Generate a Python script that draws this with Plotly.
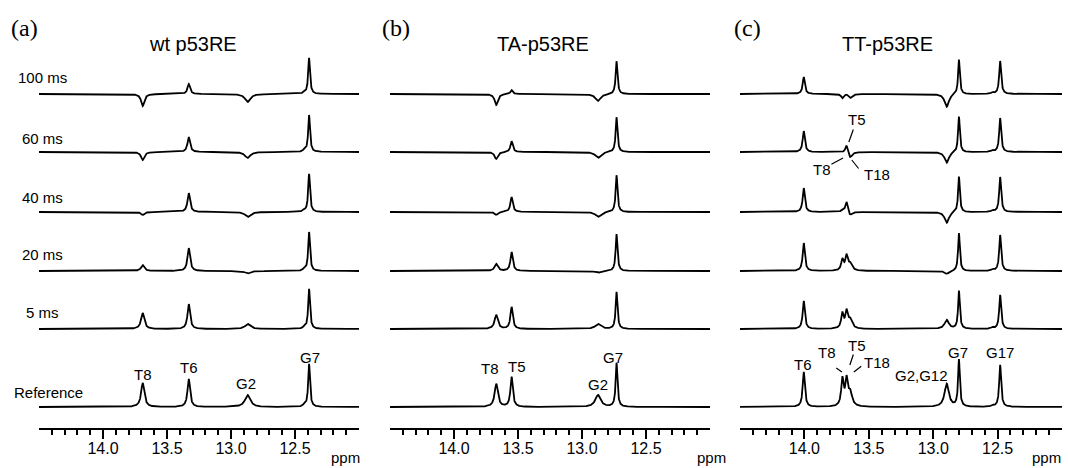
import numpy as np
import plotly.graph_objects as go

# ---------------- data ----------------
rows = ["100 ms", "60 ms", "40 ms", "20 ms", "5 ms", "Reference"]
panels = ["(a)", "(b)", "(c)"]
titles = ["wt p53RE", "TA-p53RE", "TT-p53RE"]

tick_vals = [14.0, 13.5, 13.0, 12.5]
tick_text = ["14.0", "13.5", "13.0", "12.5"]
minor_vals = [14.4, 14.3, 14.2, 14.1, 13.9, 13.8, 13.7, 13.6, 13.4, 13.3,
              13.2, 13.1, 12.9, 12.8, 12.7, 12.6, 12.4, 12.3, 12.2, 12.1]

# panel (a) wt p53RE : peak positions (ppm), line widths (ppm), intensities per row
a_ppm = [13.69, 13.33, 12.87, 12.43, 12.39]
a_width = [0.030, 0.024, 0.050, 0.020, 0.017]
a_int = {
    "T8":  [-12, -8, -3, 6, 16, 24],
    "T6":  [10, 15, 19, 23, 25, 28],
    "G2":  [-8, -6, -5, -2.5, 5, 12],
    "sh":  [1.5, 1.5, 1.5, 1.5, 1.5, 1.5],
    "G7":  [36, 37, 38, 39, 40, 43],
}

# panel (b) TA-p53RE
b_ppm = [13.67, 13.55, 12.875, 12.73]
b_width = [0.030, 0.022, 0.050, 0.017]
b_int = {
    "T8": [-11, -7, -3, 7, 14, 23],
    "T5": [4, 11, 15, 19, 22, 30],
    "G2": [-7, -6, -5, -2, 5, 12],
    "G7": [33, 35, 37, 37, 37, 44],
}

# panel (c) TT-p53RE
c_ppm = [14.005, 13.705, 13.673, 13.645, 12.895, 12.80, 12.54, 12.48]
c_width = [0.020, 0.022, 0.022, 0.036, 0.040, 0.016, 0.020, 0.018]
c_int = {
    "T6":  [17, 21, 24, 28, 28, 35],
    "T8":  [-4, 0, 2, 11, 15, 27],
    "T5":  [1, 8, 11, 14, 16, 25],
    "T18": [-4, -6, -4, 7, 9, 14],
    "G2":  [-13, -11, -11, -3, 9, 23],
    "G7":  [35, 36, 36, 38, 38, 47],
    "sh":  [1.5, 1.5, 1.5, 1.5, 1.5, 1.5],
    "G17": [33, 34, 35, 36, 34, 42],
}

# ---------------- layout constants ----------------
W, H = 1068, 468
row_offset = [334, 276, 216, 157, 99, 21]     # baseline height above the ppm axis
x_domains_px = [(39, 359), (390, 710), (740, 1062)]
axis_px = 428


def spectrum(ppm_axis, centres, widths, heights):
    y = np.zeros_like(ppm_axis)
    for c, w, h in zip(centres, widths, heights):
        hw = w / 2.0
        y += h / (1.0 + ((ppm_axis - c) / hw) ** 2)
    return y


fig = go.Figure()
ppm_axis = np.linspace(14.5, 12.0, 2500)
panel_data = [(a_ppm, a_width, a_int), (b_ppm, b_width, b_int), (c_ppm, c_width, c_int)]
xnames = ["x", "x2", "x3"]

for p, (cent, wid, ints) in enumerate(panel_data):
    keys = list(ints.keys())
    for r in range(len(rows)):
        heights = [ints[k][r] for k in keys]
        y = spectrum(ppm_axis, cent, wid, heights) + row_offset[r]
        fig.add_trace(go.Scatter(x=ppm_axis, y=y, mode="lines",
                                 line=dict(color="black", width=1.8),
                                 xaxis=xnames[p], yaxis="y",
                                 hoverinfo="skip", showlegend=False))

axis_common = dict(range=[14.5, 12.0], showline=True, linewidth=2.4, linecolor="black",
                   showgrid=False, zeroline=False, ticks="outside", ticklen=9, tickwidth=1.5,
                   tickcolor="black", tickmode="array", tickvals=tick_vals, ticktext=tick_text,
                   tickfont=dict(family="Liberation Sans, Arial", size=16, color="black"),
                   ticklabelstandoff=-4,
                   anchor="y",
                   minor=dict(tickmode="array", tickvals=minor_vals, ticks="outside",
                              ticklen=5, tickwidth=1.5, tickcolor="black", showgrid=False))

layout_axes = {}
for i, (d0, d1) in enumerate(x_domains_px):
    key = "xaxis" if i == 0 else f"xaxis{i+1}"
    layout_axes[key] = dict(axis_common, domain=[d0 / W, d1 / W])

fig.update_layout(
    width=W, height=H, margin=dict(l=0, r=0, t=0, b=0),
    paper_bgcolor="white", plot_bgcolor="white",
    yaxis=dict(range=[0, axis_px], domain=[(H - axis_px) / H, 1], visible=False, fixedrange=True),
    **layout_axes,
)


def px(x):
    return x / W


def py(y):
    return 1 - y / H


ann = []
label_font = dict(family="Liberation Sans, Arial", size=15, color="black")

# panel letters and titles
letter_px = [(24, 28), (396, 28), (747, 28)]
title_px = [(193, 44), (543, 44), (887, 44)]
ppm_px = [(345, 457), (711, 457), (1046, 457)]
for i in range(3):
    ann.append(dict(x=px(letter_px[i][0]), y=py(letter_px[i][1]), xref="paper", yref="paper",
                    xanchor="center", yanchor="middle",
                    text=panels[i], showarrow=False,
                    font=dict(family="Liberation Serif, Times New Roman", size=24, color="black")))
    ann.append(dict(x=px(title_px[i][0]), y=py(title_px[i][1]), xref="paper", yref="paper",
                    xanchor="center", yanchor="middle",
                    text=titles[i], showarrow=False,
                    font=dict(family="Liberation Sans, Arial", size=20, color="black")))
    ann.append(dict(x=px(ppm_px[i][0]), y=py(ppm_px[i][1]), xref="paper", yref="paper",
                    text="ppm", showarrow=False, xanchor="center", yanchor="middle",
                    font=dict(family="Liberation Sans, Arial", size=15, color="black")))

# row labels
row_label_px = [(42, 78), (42, 138), (42, 197), (42, 255), (42, 312), (48, 392)]
for r, (lx, ly) in enumerate(row_label_px):
    ann.append(dict(x=px(lx), y=py(ly), xref="paper", yref="paper", text=rows[r],
                    xanchor="center", yanchor="middle",
                    showarrow=False, font=label_font))

# peak labels: (axis, ppm, height above axis, text)
peak_labels = [
    ("x", 13.69, 54, "T8"), ("x", 13.33, 61, "T6"), ("x", 12.88, 45, "G2"), ("x", 12.38, 71, "G7"),
    ("x2", 13.72, 60, "T8"), ("x2", 13.51, 62, "T5"), ("x2", 12.875, 44, "G2"), ("x2", 12.76, 71, "G7"),
    ("x3", 14.01, 64, "T6"), ("x3", 13.826, 76, "T8"), ("x3", 13.593, 83, "T5"), ("x3", 13.438, 66, "T18"),
    ("x3", 13.089, 53, "G2,G12"), ("x3", 12.81, 76, "G7"), ("x3", 12.484, 76, "G17"),
    ("x3", 13.593, 309, "T5"), ("x3", 13.864, 259, "T8"), ("x3", 13.438, 254, "T18"),
]
for ax_name, xx, yy, t in peak_labels:
    ann.append(dict(x=xx, y=yy, xref=ax_name, yref="y", text=t, showarrow=False,
                    xanchor="center", yanchor="middle", font=label_font))

# leader lines: (start ppm, start y, end ppm, end y)
leaders = [
    (13.764, 61, 13.709, 56), (13.616, 75, 13.647, 63), (13.547, 63, 13.616, 56),
    (13.616, 300, 13.655, 286), (13.802, 263, 13.70, 270), (13.57, 258, 13.632, 268),
]
for x0, y0, x1, y1 in leaders:
    ann.append(dict(x=x1, y=y1, ax=x0, ay=y0, xref="x3", yref="y", axref="x3", ayref="y",
                    text="", showarrow=True, arrowhead=0, arrowwidth=1.2, arrowcolor="black",
                    standoff=0, startstandoff=0))

fig.update_layout(annotations=ann)
fig.write_html("out.html", config={"displayModeBar": False},
               post_script="document.body.style.margin='0px';")
